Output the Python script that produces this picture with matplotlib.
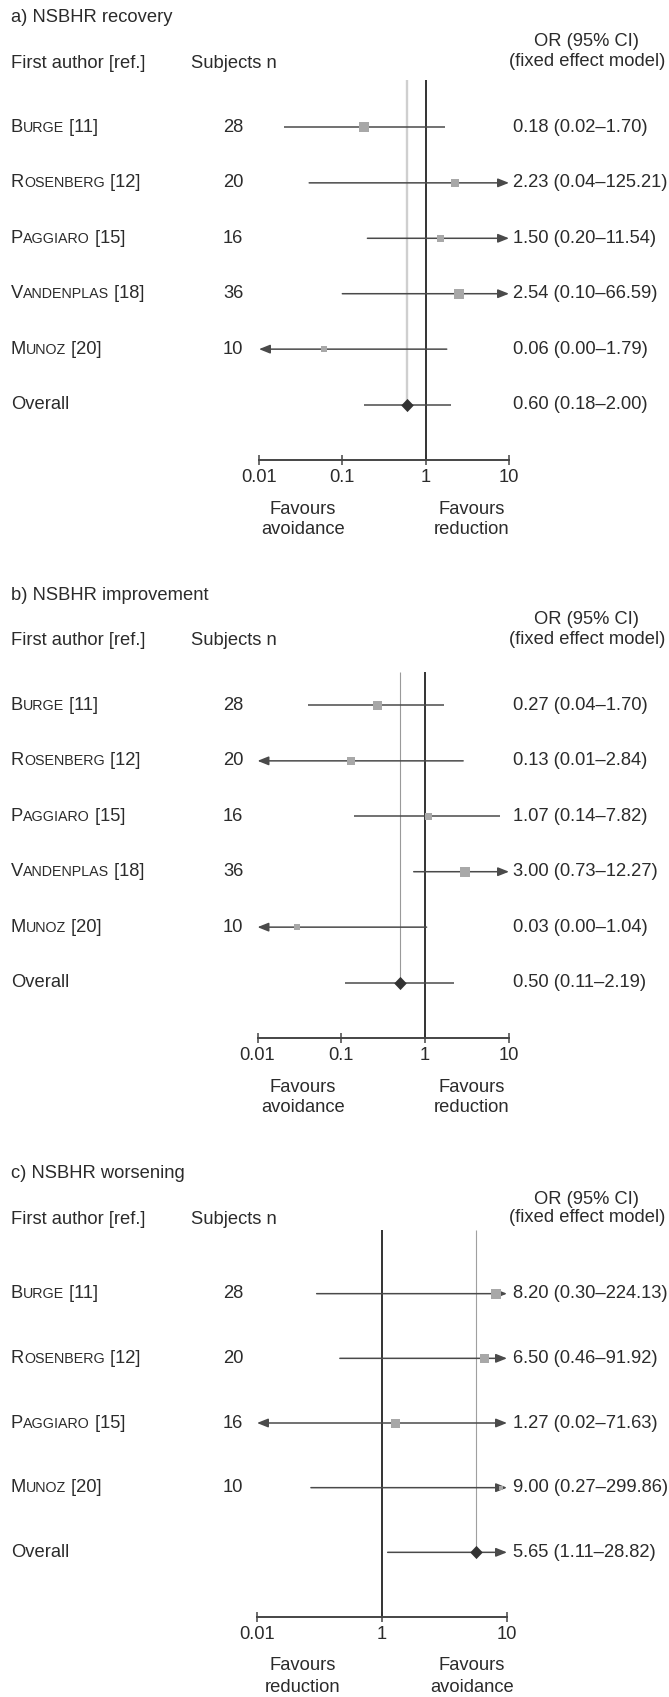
import numpy as np
import matplotlib
matplotlib.use("Agg")
import matplotlib.pyplot as plt
import matplotlib.transforms as mtransforms
from matplotlib.offsetbox import TextArea, HPacker, AnnotationBbox
from matplotlib.ticker import NullLocator

plt.rcParams['font.family'] = ['Liberation Sans', 'DejaVu Sans']

# ---- data ----
authors_a = ['Burge', 'Rosenberg', 'Paggiaro', 'Vandenplas', 'Munoz']
refs_a = [11, 12, 15, 18, 20]
n_a = [28, 20, 16, 36, 10]
or_a = [0.18, 2.23, 1.50, 2.54, 0.06]
lo_a = [0.02, 0.04, 0.20, 0.10, 0.00]
hi_a = [1.70, 125.21, 11.54, 66.59, 1.79]
overall_a = [0.60, 0.18, 2.00]

authors_b = ['Burge', 'Rosenberg', 'Paggiaro', 'Vandenplas', 'Munoz']
refs_b = [11, 12, 15, 18, 20]
n_b = [28, 20, 16, 36, 10]
or_b = [0.27, 0.13, 1.07, 3.00, 0.03]
lo_b = [0.04, 0.01, 0.14, 0.73, 0.00]
hi_b = [1.70, 2.84, 7.82, 12.27, 1.04]
overall_b = [0.50, 0.11, 2.19]

authors_c = ['Burge', 'Rosenberg', 'Paggiaro', 'Munoz']
refs_c = [11, 12, 15, 20]
n_c = [28, 20, 16, 10]
or_c = [8.20, 6.50, 1.27, 9.00]
lo_c = [0.30, 0.46, 0.02, 0.27]
hi_c = [224.13, 91.92, 71.63, 299.86]
overall_c = [5.65, 1.11, 28.82]

ticks_ab = [0.01, 0.1, 1, 10]
ticklabels_ab = ['0.01', '0.1', '1', '10']
ticks_c = [0.1, 1, 10]
ticklabels_c = ['0.01', '1', '10']   # printed this way in the original figure

# box sizes (px) - style only
box_a = [9.5, 8, 7, 10.5, 6]
box_b = [9, 8, 7, 10, 6]
box_c = [10, 9, 9, 5]

W, H = 669, 1697
fig = plt.figure(figsize=(W / 100, H / 100), dpi=100)

TXT = '#2b2b2b'
LINE = '#4a4a4a'
BOX = '#a8a8a8'
FS = 13.2
SC = 10.3


def fx(px):
    return px / W


def fy(py):
    return 1 - py / H


panels = [
    dict(title='a) NSBHR recovery', off=0, authors=authors_a, refs=refs_a, n=n_a,
         est=or_a, lo=lo_a, hi=hi_a, overall=overall_a, ticks=ticks_ab,
         ticklabels=ticklabels_ab, x0=259, x1=509, box=box_a, vtop=80,
         fav=('Favours\navoidance', 'Favours\nreduction'),
         gray=dict(color='#cfcfcf', lw=1.7)),
    dict(title='b) NSBHR improvement', off=578, authors=authors_b, refs=refs_b, n=n_b,
         est=or_b, lo=lo_b, hi=hi_b, overall=overall_b, ticks=ticks_ab,
         ticklabels=ticklabels_ab, x0=257.5, x1=509, box=box_b, vtop=94,
         fav=('Favours\navoidance', 'Favours\nreduction'),
         gray=dict(color='#9a9a9a', lw=0.8)),
    dict(title='c) NSBHR worsening', off=1157, authors=authors_c, refs=refs_c, n=n_c,
         est=or_c, lo=lo_c, hi=hi_c, overall=overall_c, ticks=ticks_c,
         ticklabels=ticklabels_c, x0=257, x1=507, box=box_c, vtop=73,
         fav=('Favours\nreduction', 'Favours\navoidance'),
         gray=dict(color='#a0a0a0', lw=0.8)),
]

TOP, AXIS = 72, 460

for p in panels:
    off = p['off']
    nrow = len(p['authors']) + 1
    ax = fig.add_axes([fx(p['x0']), fy(off + AXIS), fx(p['x1']) - fx(p['x0']),
                       (AXIS - TOP) / H])
    ax.set_xscale('log')
    xmin, xmax = p['ticks'][0], p['ticks'][-1]
    ax.set_xlim(xmin, xmax)
    ax.set_ylim(nrow, -1)
    ax.patch.set_visible(False)
    for s in ['top', 'left', 'right']:
        ax.spines[s].set_visible(False)
    ax.spines['bottom'].set_color('#454545')
    ax.spines['bottom'].set_linewidth(1.4)
    ax.set_yticks([])
    ax.set_xticks(p['ticks'], labels=p['ticklabels'])
    ax.xaxis.set_minor_locator(NullLocator())
    ax.tick_params(axis='x', direction='inout', length=7.5, width=1.1,
                   color='#454545', labelsize=FS, labelcolor=TXT, pad=2.5)

    # top of the reference lines, converted from pixels to row units
    row_px = (AXIS - TOP) / (nrow + 1)
    ytop = -1 + (p['vtop'] - TOP) / row_px

    ov, ov_lo, ov_hi = p['overall']
    ax.plot([1, 1], [ytop, nrow], color='#333333', lw=1.4, zorder=2,
            solid_capstyle='butt')
    ax.plot([ov, ov], [ytop, nrow - 1], zorder=1, solid_capstyle='butt', **p['gray'])

    ests = p['est'] + [ov]
    los = p['lo'] + [ov_lo]
    his = p['hi'] + [ov_hi]
    for i, (e, lo, hi) in enumerate(zip(ests, los, his)):
        left = max(lo, xmin)
        right = min(hi, xmax)
        al = lo <= xmin
        ar = hi >= xmax
        if al and ar:
            style = '<|-|>'
        elif ar:
            style = '-|>'
        elif al:
            style = '<|-'
        else:
            style = None
        if style is None:
            ax.plot([left, right], [i, i], color=LINE, lw=1.1, zorder=3,
                    solid_capstyle='butt')
        else:
            ax.annotate('', xy=(right, i), xytext=(left, i),
                        arrowprops=dict(arrowstyle=style + ',head_length=0.55,head_width=0.22',
                                        mutation_scale=12, color=LINE, lw=1.1,
                                        shrinkA=0, shrinkB=0, clip_on=False),
                        zorder=3, annotation_clip=False)
        if i < nrow - 1:
            ax.plot([e], [i], marker='s', ms=p['box'][i] * 0.72, color=BOX,
                    mew=0, zorder=4, clip_on=False)
        else:
            ax.plot([e], [i], marker=[(0, 1), (0.95, 0), (0, -1), (-0.95, 0)],
                    ms=9.5, color='#333333', mew=0, zorder=4, clip_on=False)

    tr = mtransforms.blended_transform_factory(fig.transFigure, ax.transData)

    # row labels
    for i in range(nrow):
        if i < nrow - 1:
            name = p['authors'][i]
            parts = [TextArea(name[0], textprops=dict(size=FS, color=TXT)),
                     TextArea(name[1:].upper(), textprops=dict(size=SC, color=TXT)),
                     TextArea(' [%d]' % p['refs'][i], textprops=dict(size=FS, color=TXT))]
            box = HPacker(children=parts, align='baseline', pad=0, sep=0)
            ab = AnnotationBbox(box, (fx(11), i), xycoords=tr, box_alignment=(0, 0.5),
                                frameon=False, pad=0, annotation_clip=False)
            fig.add_artist(ab)
            fig.text(fx(233), i, str(p['n'][i]), transform=tr, ha='center',
                     va='center', size=FS, color=TXT)
            e, lo, hi = p['est'][i], p['lo'][i], p['hi'][i]
        else:
            fig.text(fx(11), i, 'Overall', transform=tr, ha='left', va='center',
                     size=FS, color=TXT)
            e, lo, hi = ov, ov_lo, ov_hi
        fig.text(fx(513), i, '%.2f (%.2f\u2013%.2f)' % (e, lo, hi), transform=tr,
                 ha='left', va='center', size=FS, color=TXT)

    # headers
    fig.text(fx(11), fy(off + 17), p['title'], ha='left', va='center', size=FS, color=TXT)
    fig.text(fx(11), fy(off + 63), 'First author [ref.]', ha='left', va='center',
             size=FS, color=TXT)
    fig.text(fx(191), fy(off + 63), 'Subjects n', ha='left', va='center', size=FS, color=TXT)
    fig.text(fx(587), fy(off + 42), 'OR (95% CI)', ha='center', va='center', size=FS, color=TXT)
    fig.text(fx(587), fy(off + 61), '(fixed effect model)', ha='center', va='center',
             size=FS, color=TXT)

    # favours labels
    for xc, lab in zip([303, 472], p['fav']):
        l1, l2 = lab.split('\n')
        fig.text(fx(xc), fy(off + 509), l1, ha='center', va='center', size=FS, color=TXT)
        fig.text(fx(xc), fy(off + 530), l2, ha='center', va='center', size=FS, color=TXT)

fig.savefig('out.png', dpi=100)
